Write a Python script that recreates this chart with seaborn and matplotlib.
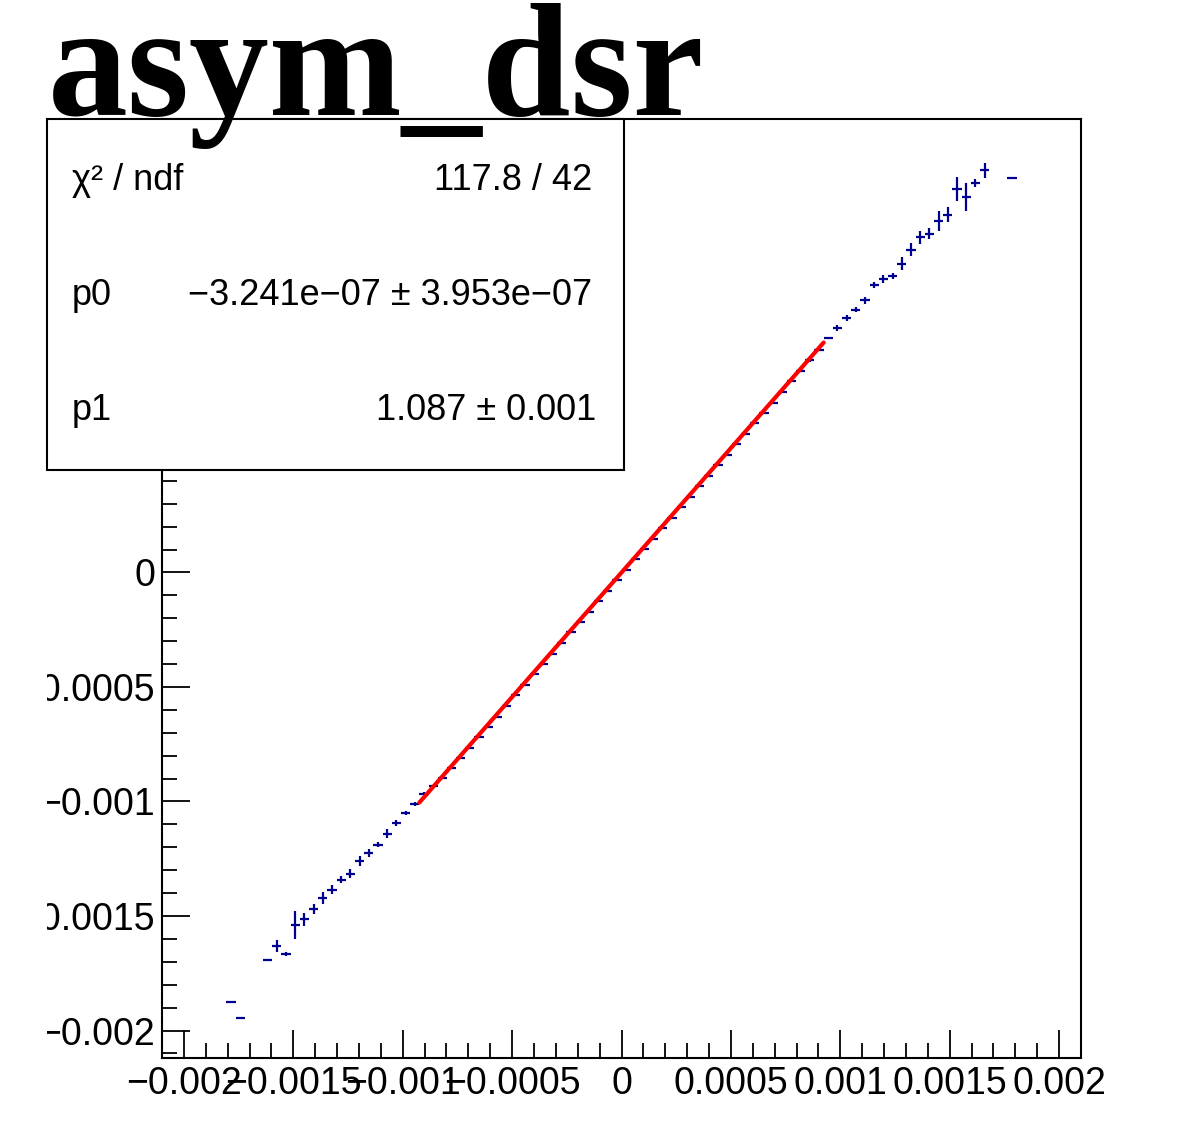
import numpy as np
import pandas as pd
import matplotlib
matplotlib.use("Agg")
import matplotlib.pyplot as plt
import seaborn as sns
from matplotlib.patches import Rectangle
from matplotlib.ticker import MultipleLocator, FuncFormatter

# profile bins: centre, mean and error on the mean
left_x = [-0.001785, -0.001743, -0.001617, -0.001575, -0.001533, -0.001491, -0.001449,
          -0.001407, -0.001365, -0.001323, -0.001281, -0.001239, -0.001197, -0.001155,
          -0.001113, -0.001071, -0.001029, -0.000987, -0.000945]
left_y = [-0.001876, -0.001946, -0.001690, -0.001632, -0.001665, -0.001539, -0.001515,
          -0.001469, -0.001422, -0.001386, -0.001341, -0.001316, -0.001261, -0.001224,
          -0.001188, -0.001141, -0.001095, -0.001051, -0.001010]
left_err = [0.0, 0.0, 0.0, 0.000027, 0.000009, 0.000060, 0.000028,
            0.000023, 0.000025, 0.000020, 0.000016, 0.000020, 0.000022, 0.000018,
            0.000009, 0.000020, 0.000013, 0.000009, 0.000009]

core_x = [-0.000903, -0.000861, -0.000819, -0.000777, -0.000735, -0.000693, -0.000651,
          -0.000609, -0.000567, -0.000525, -0.000483, -0.000441, -0.000399, -0.000357,
          -0.000315, -0.000273, -0.000231, -0.000189, -0.000147, -0.000105, -0.000063,
          -0.000021, 0.000021, 0.000063, 0.000105, 0.000147, 0.000189, 0.000231,
          0.000273, 0.000315, 0.000357, 0.000399, 0.000441, 0.000483, 0.000525,
          0.000567, 0.000609, 0.000651, 0.000693, 0.000735, 0.000777, 0.000819,
          0.000861, 0.000903]
core_y = [-0.000966, -0.000934, -0.000896, -0.000855, -0.000810, -0.000766, -0.000720,
          -0.000676, -0.000629, -0.000584, -0.000537, -0.000493, -0.000445, -0.000401,
          -0.000354, -0.000309, -0.000262, -0.000218, -0.000171, -0.000125, -0.000080,
          -0.000034, 0.000012, 0.000057, 0.000103, 0.000148, 0.000194, 0.000239,
          0.000286, 0.000331, 0.000377, 0.000422, 0.000468, 0.000514, 0.000559,
          0.000605, 0.000651, 0.000696, 0.000742, 0.000788, 0.000834, 0.000880,
          0.000926, 0.000972]
core_err = [0.000006, 0.000005, 0.000004, 0.000004, 0.000003, 0.000003, 0.000003,
            0.000003, 0.000002, 0.000002, 0.000002, 0.000002, 0.000002, 0.000002,
            0.000002, 0.000002, 0.000002, 0.000002, 0.000002, 0.000002, 0.000002,
            0.000002, 0.000002, 0.000002, 0.000002, 0.000002, 0.000002, 0.000002,
            0.000002, 0.000002, 0.000002, 0.000002, 0.000002, 0.000002, 0.000002,
            0.000002, 0.000003, 0.000003, 0.000003, 0.000003, 0.000004, 0.000004,
            0.000005, 0.000006]

right_x = [0.000945, 0.000987, 0.001029, 0.001071, 0.001113, 0.001155, 0.001197,
           0.001239, 0.001281, 0.001323, 0.001365, 0.001407, 0.001449, 0.001491,
           0.001533, 0.001575, 0.001617, 0.001659, 0.001785]
right_y = [0.001023, 0.001067, 0.001112, 0.001147, 0.001188, 0.001256, 0.001280,
           0.001293, 0.001348, 0.001409, 0.001464, 0.001479, 0.001534, 0.001562,
           0.001676, 0.001639, 0.001700, 0.001756, 0.001722]
right_err = [0.000004, 0.000013, 0.000014, 0.000010, 0.000014, 0.000014, 0.000018,
             0.000013, 0.000028, 0.000029, 0.000029, 0.000024, 0.000044, 0.000033,
             0.000052, 0.000061, 0.000016, 0.000033, 0.0]

bin_half_width = 0.000021

# fit results (pol1)
chi2_text = "117.8 / 42"
p0_text = "\u22123.241e\u221207 \u00b1 3.953e\u221207"
p1_text = "1.087 \u00b1 0.001"
p0 = -3.241e-07
p1 = 1.087
fit_range = [-0.000924, 0.000924]

df = pd.DataFrame({
    "x": left_x + core_x + right_x,
    "y": left_y + core_y + right_y,
    "err": left_err + core_err + right_err,
})

fit_x = np.linspace(fit_range[0], fit_range[1], 200)
fit_df = pd.DataFrame({"x": fit_x, "y": p0 + p1 * fit_x})

sns.set_style("ticks")
plt.rcParams['font.family'] = ['Liberation Sans', 'DejaVu Sans']
plt.rcParams['axes.unicode_minus'] = True
for key in ("text.color", "axes.labelcolor", "xtick.color", "ytick.color", "axes.edgecolor"):
    plt.rcParams[key] = "black"

W, H = 1198, 1128
fig = plt.figure(figsize=(W / 100, H / 100), dpi=100)
fig.patch.set_facecolor("white")
ax = fig.add_axes([162 / W, 1 - 1058 / H, (1081 - 162) / W, (1058 - 119) / H])

# profile points with bin-width x errors
ax.errorbar(df["x"], df["y"], xerr=bin_half_width, yerr=df["err"], fmt="none",
            ecolor="#000090", elinewidth=1.6, capsize=0, zorder=2)

# fit line
sns.lineplot(data=fit_df, x="x", y="y", color="red", linewidth=3.0, ax=ax,
             zorder=3, legend=False)

ax.set_xlim(-0.0021, 0.0021)
ax.set_ylim(-0.00212, 0.00198)
ax.set_xlabel("")
ax.set_ylabel("")


def root_label(v, pos):
    return ("%g" % round(v, 7)).replace("-", "\u2212")


def root_label_y(v, pos):
    # labels above zero sit under the stats box
    if v > 0.0002:
        return ""
    return root_label(v, pos)


for axis in (ax.xaxis, ax.yaxis):
    axis.set_major_locator(MultipleLocator(0.0005))
    axis.set_minor_locator(MultipleLocator(0.0001))
ax.xaxis.set_major_formatter(FuncFormatter(root_label))
ax.yaxis.set_major_formatter(FuncFormatter(root_label_y))

ax.tick_params(which="major", direction="in", length=20, width=1.3, labelsize=27,
               top=False, right=False, colors="black")
ax.tick_params(which="minor", direction="in", length=10.5, width=1.3,
               top=False, right=False, colors="black")
ax.tick_params(axis="x", pad=6)
ax.tick_params(axis="y", pad=5)
for s in ax.spines.values():
    s.set_linewidth(1.5)
    s.set_color("black")

# the canvas edge cuts the long y labels on the left
fig.add_artist(Rectangle((0, 0), 46.5 / W, 1, transform=fig.transFigure,
                         facecolor="white", edgecolor="none", zorder=3))

# stats box
box = Rectangle((47 / W, 1 - 470 / H), (624 - 47) / W, (470 - 119) / H,
                transform=fig.transFigure, facecolor="white", edgecolor="black",
                linewidth=1.5, zorder=4)
fig.add_artist(box)

rows = [("\u03c7\u00b2 / ndf", chi2_text, 180, 592),
        ("p0", p0_text, 295, 592),
        ("p1", p1_text, 411, 596)]
for name, val, ypx, xr in rows:
    fig.text(72 / W, 1 - ypx / H, name, ha="left", va="center", fontsize=26, zorder=5)
    fig.text(xr / W, 1 - ypx / H, val, ha="right", va="center", fontsize=26, zorder=5)

# title
fig.text(48 / W, 1 - 115 / H, "asym_dsr", family="Liberation Serif", weight="bold",
         fontsize=115, ha="left", va="baseline", zorder=6)

fig.savefig("out.png", dpi=100)
